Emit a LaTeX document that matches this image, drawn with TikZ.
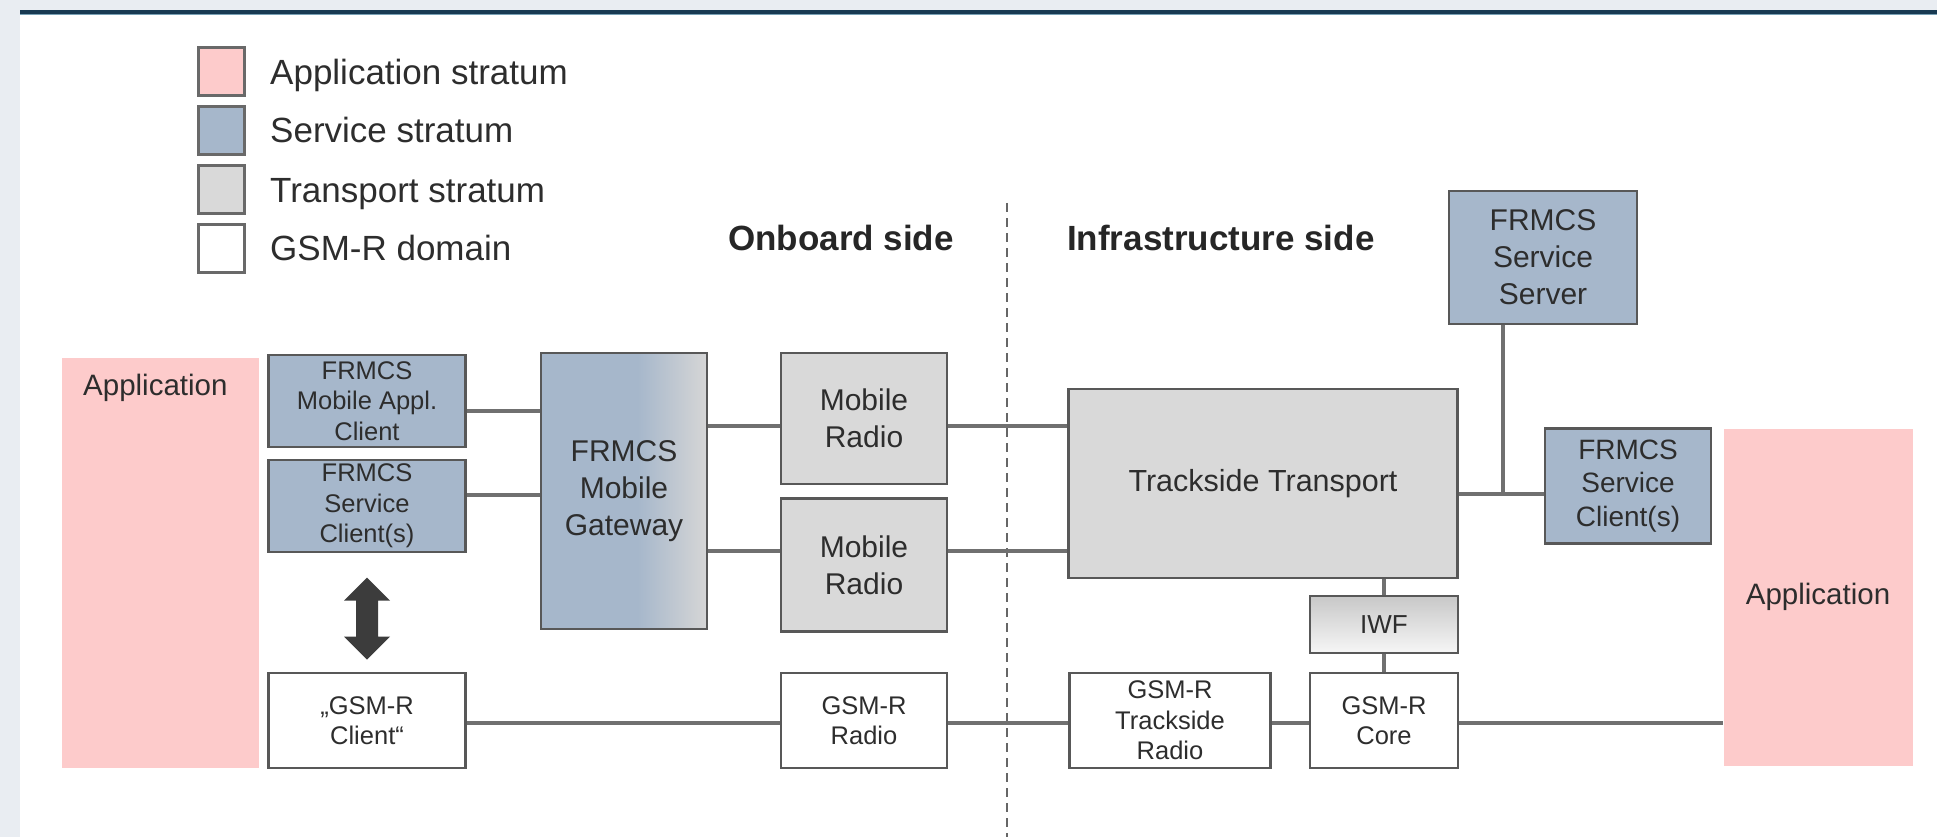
\documentclass[tikz,border=0pt]{standalone}
\usepackage{fontspec}
\setmainfont{Liberation Sans}
\usetikzlibrary{calc}

\definecolor{appink}{RGB}{253,203,203}
\definecolor{svcblue}{RGB}{166,183,203}
\definecolor{trgray}{RGB}{217,217,217}
\definecolor{boxline}{RGB}{88,88,88}
\definecolor{linkgray}{RGB}{112,112,112}
\definecolor{txt}{RGB}{45,45,45}
\definecolor{pagebg}{RGB}{233,237,242}
\definecolor{barnavy}{RGB}{24,58,82}
\definecolor{barline}{RGB}{120,160,180}
\definecolor{arrowgray}{RGB}{60,60,60}
\definecolor{gwright}{RGB}{214,214,214}
\definecolor{iwftop}{RGB}{200,200,200}
\definecolor{iwfbot}{RGB}{246,246,246}
\definecolor{legline}{RGB}{105,105,105}

% horizontal fade of the gateway: the box spans 25bp..75bp of the shading
\pgfdeclarehorizontalshading{gwshade}{100bp}{color(0bp)=(svcblue); color(25bp)=(svcblue); color(54bp)=(svcblue); color(75bp)=(gwright); color(100bp)=(gwright)}

\begin{document}
\begin{tikzpicture}[x=1pt,y=-1pt,
  box/.style={draw=boxline, line width=2.8pt, align=center, inner sep=0pt, text=txt},
  svc/.style={box, fill=svcblue},
  trn/.style={box, fill=trgray},
  gsm/.style={box, fill=white},
  fsmall/.style={font=\fontsize{25.5}{30.5}\selectfont},
  fmid/.style={font=\fontsize{30}{37}\selectfont},
  appbox/.style={fill=appink, inner sep=0pt, text=txt, font=\fontsize{29.5}{34}\selectfont},
  legsq/.style={draw=legline, line width=3pt, minimum width=46pt, minimum height=48pt, inner sep=0pt},
  legtxt/.style={text=txt, inner sep=0pt, font=\fontsize{35}{40}\selectfont},
  sidetxt/.style={text=black!85, inner sep=0pt, font=\fontsize{35}{40}\selectfont\bfseries},
  link/.style={draw=linkgray, line width=3.6pt},
  divider/.style={draw=black!60, line width=2pt, dash pattern=on 9pt off 6pt},
  dblarrow/.style={fill=arrowgray}
]
\useasboundingbox (0,0) rectangle (1937,837);

% page background, white panel and top bar
\fill[pagebg] (0,0) rectangle (1937,837);
\fill[white] (20,14.5) rectangle (1937,837);
\fill[barnavy] (20,10) rectangle (1937,14);
\fill[barline] (20,14) rectangle (1937,15.5);

% legend
\node[legsq, fill=appink] (lg1) at (221,72) {};
\node[legsq, fill=svcblue] (lg2) at (221,130.5) {};
\node[legsq, fill=trgray] (lg3) at (221,189.5) {};
\node[legsq, fill=white] (lg4) at (221,248) {};
\node[legtxt, anchor=base west] (lt1) at (270,85) {Application stratum};
\node[legtxt, anchor=base west] (lt2) at (270,143) {Service stratum};
\node[legtxt, anchor=base west] (lt3) at (270,202) {Transport stratum};
\node[legtxt, anchor=base west] (lt4) at (270,260.5) {GSM-R domain};

% side headings and the dividing line
\node[sidetxt, anchor=base west] (onb) at (728,250) {Onboard side};
\node[sidetxt, anchor=base west] (inf) at (1067,250) {Infrastructure side};
\coordinate (dtop) at (1007,203);
\coordinate (dbot) at (1007,837);
\draw[divider] (dtop) -- (dbot);

% application strata
\node[appbox, minimum width=197pt, minimum height=410pt] (appL) at (160.5,562.5) {};
\node[appbox, anchor=base west] (appLt) at (83,395) {Application};
\node[appbox, minimum width=189pt, minimum height=337pt] (appR) at (1818,597) {Application};

% onboard side
\node[svc, fsmall, minimum width=197pt, minimum height=92pt] (mac) at (367,401) {FRMCS\\Mobile Appl.\\Client};
\node[svc, fsmall, minimum width=197pt, minimum height=92pt] (scl) at (367,506) {FRMCS\\Service\\Client(s)};
\node[box, fmid, shade, shading=gwshade, minimum width=166pt, minimum height=276pt] (gw) at (624,491) {FRMCS\\Mobile\\Gateway};
\node[trn, fmid, minimum width=166pt, minimum height=131pt] (mr1) at (864,418.5) {Mobile\\Radio};
\node[trn, fmid, minimum width=166pt, minimum height=133pt] (mr2) at (864,565) {Mobile\\Radio};
\node[gsm, fsmall, minimum width=197pt, minimum height=95pt] (gcl) at (367,720.5) {„GSM-R\\Client“};
\node[gsm, fsmall, minimum width=166pt, minimum height=95pt] (grad) at (864,720.5) {GSM-R\\Radio};

% infrastructure side
\node[trn, font=\fontsize{30.5}{36}\selectfont, minimum width=389pt, minimum height=189pt] (tt) at (1263,483.5) {Trackside Transport};
\node[box, font=\fontsize{26}{30}\selectfont, top color=iwftop, bottom color=iwfbot, minimum width=148pt, minimum height=57pt] (iwf) at (1384,624.5) {IWF};
\node[gsm, fsmall, minimum width=148pt, minimum height=95pt] (core) at (1384,720.5) {GSM-R\\Core};
\node[gsm, fsmall, minimum width=201pt, minimum height=95pt] (gtr) at (1170,720.5) {GSM-R\\Trackside\\Radio};
\node[svc, fmid, minimum width=188pt, minimum height=133pt] (srv) at (1543,257.5) {FRMCS\\Service\\Server};
\node[svc, font=\fontsize{28}{33.5}\selectfont, minimum width=166pt, minimum height=115pt] (scr) at (1628,486) {FRMCS\\Service\\Client(s)};

% connector heights
\coordinate (y1) at (0,411);
\coordinate (y2) at (0,495);
\coordinate (y3) at (0,426);
\coordinate (y4) at (0,551);
\coordinate (y5) at (0,494);
\coordinate (y6) at (0,723);
\coordinate (tj) at (1503,494);

% connectors
\draw[link] (mac.east |- y1) -- (gw.west |- y1);
\draw[link] (scl.east |- y2) -- (gw.west |- y2);
\draw[link] (gw.east |- y3) -- (mr1.west |- y3);
\draw[link] (mr1.east |- y3) -- (tt.west |- y3);
\draw[link] (gw.east |- y4) -- (mr2.west |- y4);
\draw[link] (mr2.east |- y4) -- (tt.west |- y4);
\draw[link] (tt.east |- y5) -- (scr.west |- y5);
\draw[link] (tj |- srv.south) -- (tj);
\draw[link] (tt.south -| iwf.north) -- (iwf.north);
\draw[link] (iwf.south) -- (core.north);
\draw[link] (gcl.east |- y6) -- (grad.west |- y6);
\draw[link] (grad.east |- y6) -- (gtr.west |- y6);
\draw[link] (gtr.east |- y6) -- (core.west |- y6);
\draw[link] (core.east |- y6) -- (appR.west |- y6);

% double-headed block arrow between the service client and the GSM-R client
\coordinate (amid) at ($(scl.south)!0.5!(gcl.north)$);
\fill[dblarrow, shift={(amid)}, yshift=-6pt]
  (0,-41) -- (23,-18) -- (11,-18) -- (11,18) -- (23,18) -- (0,41)
  -- (-23,18) -- (-11,18) -- (-11,-18) -- (-23,-18) -- cycle;
\end{tikzpicture}
\end{document}
